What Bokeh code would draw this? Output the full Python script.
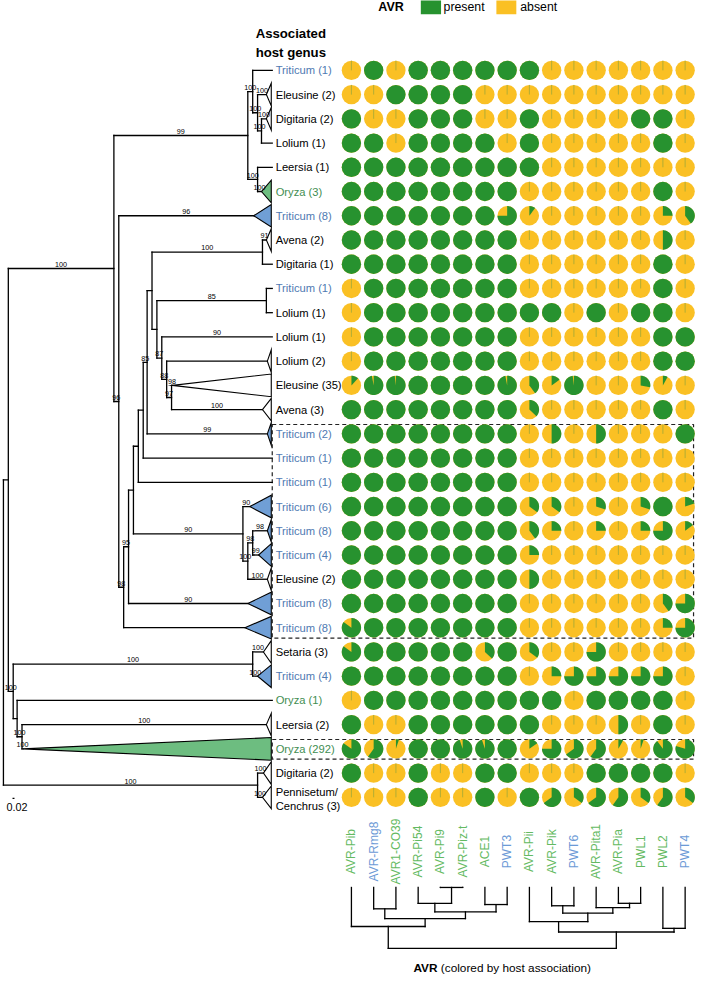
import math
from bokeh.plotting import figure
from bokeh.models import Range1d
from bokeh.embed import file_html
from bokeh.resources import INLINE
from bokeh.core.properties import value

# ------------------------------------------------------------------ data
avr_genes = ["AVR-Pib", "AVR-Rmg8", "AVR1-CO39", "AVR-Pi54", "AVR-Pi9", "AVR-Piz-t",
             "ACE1", "PWT3", "AVR-Pii", "AVR-Pik", "PWT6", "AVR-Pita1", "AVR-Pia",
             "PWL1", "PWL2", "PWT4"]
avr_gene_host = ["Oryza", "Triticum", "Oryza", "Oryza", "Oryza", "Oryza", "Oryza",
                 "Triticum", "Oryza", "Oryza", "Triticum", "Oryza", "Oryza", "Oryza",
                 "Oryza", "Triticum"]

lineage_labels = ["Triticum (1)", "Eleusine (2)", "Digitaria (2)", "Lolium (1)", "Leersia (1)",
                  "Oryza (3)", "Triticum (8)", "Avena (2)", "Digitaria (1)", "Triticum (1)",
                  "Lolium (1)", "Lolium (1)", "Lolium (2)", "Eleusine (35)", "Avena (3)",
                  "Triticum (2)", "Triticum (1)", "Triticum (1)", "Triticum (6)", "Triticum (8)",
                  "Triticum (4)", "Eleusine (2)", "Triticum (8)", "Triticum (8)", "Setaria (3)",
                  "Triticum (4)", "Oryza (1)", "Leersia (2)", "Oryza (292)", "Digitaria (2)",
                  "Pennisetum/\nCenchrus (3)"]

# fraction of isolates with the AVR gene present (rows = lineages, cols = avr_genes)
present_frac = [
    [0, 1, 0, 1, 1, 1, 1, 1, 1, 0, 0, 0, 0, 0, 0, 0],
    [0, 0, 1, 1, 1, 1, 0, 0, 0, 0, 0, 0, 0, 0, 0, 0],
    [1, 0, 0, 1, 1, 1, 0, 0, 1, 0, 0, 0, 0, 1, 1, 0],
    [1, 1, 0, 1, 1, 1, 1, 0, 1, 0, 0, 0, 0, 0, 1, 0],
    [1, 1, 1, 1, 1, 1, 1, 1, 1, 0, 0, 0, 0, 0, 0, 0],
    [1, 1, 1, 1, 1, 1, 1, 1, 0, 0, 0, 0, 0, 0, 1, 0],
    [1, 1, 1, 1, 1, 1, 1, 0.75, 0.1, 0, 0, 0, 0, 0, 0.25, 0.4],
    [1, 1, 1, 1, 1, 1, 1, 1, 0, 0, 0, 0, 0, 0, 0.5, 0],
    [1, 1, 1, 1, 1, 1, 1, 1, 0, 0, 0, 0, 0, 0, 1, 0],
    [0, 1, 1, 1, 1, 1, 1, 1, 0, 0, 0, 0, 0, 0, 1, 0],
    [0, 1, 1, 1, 1, 1, 1, 1, 1, 1, 0, 1, 0, 1, 1, 0],
    [0, 1, 1, 1, 1, 1, 1, 1, 0, 0, 0, 0, 0, 0, 1, 1],
    [0, 1, 1, 1, 1, 1, 1, 1, 0, 0, 0, 0, 0, 0, 1, 1],
    [0.12, 0.97, 0.98, 1, 1, 1, 1, 0.97, 0.4, 0.15, 0.98, 0, 0, 0.28, 0.08, 0],
    [1, 1, 1, 1, 1, 1, 1, 1, 0.37, 0, 0, 0, 0, 0, 1, 0],
    [1, 1, 1, 1, 1, 1, 1, 1, 0, 0.5, 0, 0.5, 0, 0, 0, 1],
    [1, 1, 1, 1, 1, 1, 1, 1, 0, 0, 0, 0, 0, 0, 0, 0],
    [1, 1, 1, 1, 1, 1, 1, 1, 0, 0, 0, 0, 0, 0, 0, 0],
    [1, 1, 1, 1, 1, 1, 1, 1, 0.35, 0.35, 0, 0.3, 0, 0.3, 1, 0.2],
    [1, 1, 1, 1, 1, 1, 1, 1, 0.4, 0.25, 0, 0.25, 0, 0.25, 0.75, 0.15],
    [1, 1, 1, 1, 1, 1, 1, 1, 0.25, 0, 0, 0, 0, 0, 0, 0],
    [1, 1, 1, 1, 1, 1, 1, 1, 0.5, 0, 0, 0, 0, 0, 0, 0],
    [1, 1, 1, 1, 1, 1, 1, 1, 0, 0, 0, 0, 0, 0, 0.4, 0.75],
    [0.85, 1, 1, 1, 1, 1, 1, 1, 0, 0, 0, 0, 0, 0, 0.25, 0.75],
    [0.85, 1, 1, 1, 1, 1, 0.37, 1, 0.35, 0, 0, 0.75, 0, 0, 0, 0],
    [1, 1, 1, 1, 1, 1, 1, 1, 0, 0.25, 0.75, 0.75, 0.75, 0.75, 0.75, 0],
    [0, 1, 1, 1, 1, 1, 1, 1, 1, 1, 0, 1, 1, 1, 1, 0],
    [1, 0, 0, 1, 1, 1, 1, 1, 1, 0, 0, 0, 0.5, 0, 1, 0],
    [0.85, 0.6, 0.05, 1, 1, 0.95, 0.95, 1, 0.15, 0.75, 0.65, 0.6, 0.08, 0.05, 0.9, 0.8],
    [1, 0, 0, 1, 0, 0, 1, 1, 0, 0, 0, 1, 1, 1, 1, 0],
    [0, 0, 0, 1, 0, 0, 1, 0, 1, 0.65, 0.35, 0.65, 0.6, 0.35, 0.6, 0.35],
]

# lineage tree: internal nodes, their parent, depth and bootstrap of the branch above
node_names = ["root", "N8", "A", "P", "Q", "S", "T", "R", "B", "C4", "C3", "C2", "C1", "C0",
              "D1", "D2", "U", "X", "W", "Y1", "Y2", "Z", "K1", "K2", "K3", "N13", "ST",
              "N17", "N22", "DP"]
node_parent = [None, "root", "N8", "A", "P", "Q", "S", "P", "A", "B", "C4", "C3", "C2", "C1",
               "C0", "D1", "D2", "D2", "X", "X", "Y1", "Y2", "C2", "K1", "K2", "N8", "N13",
               "N13", "N17", "root"]
node_depth = [0.00, 0.05, 1.13, 2.50, 2.55, 2.60, 2.64, 2.60, 1.18, 1.23, 1.28, 1.33, 1.38,
              1.43, 1.47, 1.52, 2.65, 1.57, 2.69, 1.62, 1.67, 1.72, 2.45, 2.50, 2.55, 0.10,
              2.55, 0.14, 0.19, 2.60]
node_support = ["", "", "100", "99", "100", "100", "100", "100", "96", "98", "95", "", "",
                "", "85", "", "100", "", "85", "87", "88", "97", "90", "100", "98", "100",
                "100", "", "100", "100"]

# tips (one per lineage row): parent node, collapsed-clade depth (None = single tip), bootstrap
leaf_parent = ["Q", "S", "T", "T", "R", "R", "B", "U", "U", "W", "W", "Y1", "Y2", "Z", "Z",
               "D1", "C0", "C1", "K1", "K3", "K3", "K2", "C3", "C4", "ST", "ST", "N17", "N22",
               "N22", "DP", "DP"]
leaf_clade_depth = [None, 2.69, 2.69, None, None, 2.64, 2.56, 2.69, None, None, None, None,
                    2.70, 1.73, 2.65, 2.70, None, None, 2.52, 2.70, 2.61, 2.70, 2.50, 2.47,
                    2.66, 2.60, None, 2.69, 0.20, 2.66, 2.65]
leaf_support = ["", "100", "100", "", "", "100", "96", "91", "", "", "", "90", "", "98",
                "100", "99", "", "", "90", "98", "99", "100", "90", "", "100", "100", "",
                "100", "100", "100", "100"]
tip_depth = 2.75
scale_bar_length = 0.02

# host-jump groups highlighted with dashed boxes (1-based lineage rows)
box_first_row = [16, 29]
box_last_row = [24, 29]

# AVR presence/absence clustering (leaves 0..15 = avr_genes, new clusters numbered from 16)
avr_merge_left = [4, 12, 3, 6, 9, 11, 1, 18, 20, 22, 8, 0, 14, 26, 27]
avr_merge_right = [5, 13, 16, 7, 10, 17, 2, 19, 21, 23, 24, 25, 15, 28, 29]
avr_merge_height = [0.0, 0.26, 0.26, 0.28, 0.30, 0.33, 0.35, 0.40, 0.42, 0.51, 0.56, 0.64,
                    0.67, 0.73, 1.00]

# ------------------------------------------------------------------ layout / style
FONT = value("Liberation Sans")
GREEN = "#27922F"
YELLOW = "#FAC024"
HOST_TEXT = {"Triticum": "#4F7AB2", "Oryza": "#3F8E52"}
HOST_FILL = {"Triticum": "#709FD6", "Oryza": "#6DBD80"}
AVR_TEXT = {"Triticum": "#6C9AD6", "Oryza": "#64BA62"}

TREE_X0, TREE_SCALE = 3.0, 100.0
ROW_Y0, ROW_DY = 71.0, 24.63
COL_X0, COL_DX = 359.0, 22.76
PIE_R = 9.9
TRI_H = 11.5
LABEL_X = 281.5
DEND_Y0, DEND_SCALE = 901.5, 62.0

W, H = 695, 976
XR, YR = 711.0, 992.0


def tx(d):
    return TREE_X0 + TREE_SCALE * d


def ry(i):
    return ROW_Y0 + ROW_DY * i


def cx(j):
    return COL_X0 + COL_DX * j


def host_of(label):
    word = label.split(" ")[0]
    return word if word in ("Triticum", "Oryza") else "other"


p = figure(width=W, height=H, x_range=Range1d(0, XR), y_range=Range1d(YR, 0),
           output_backend="svg", toolbar_location=None, min_border=0,
           x_axis_type=None, y_axis_type=None)
p.outline_line_color = None
p.background_fill_color = "white"

# ------------------------------------------------------------------ dashed boxes
bx_l, bx_r = 278.0, 709.0
p.quad(left=[bx_l] * len(box_first_row), right=[bx_r] * len(box_first_row),
       top=[ry(a - 1) - 9.5 for a in box_first_row],
       bottom=[ry(b - 1) + 10.5 for b in box_last_row],
       fill_color=None, line_color="#222222", line_width=1.2, line_dash="4 3")

# ------------------------------------------------------------------ tree
nidx = {n: i for i, n in enumerate(node_names)}
children = {n: [] for n in node_names}
for i, par in enumerate(node_parent):
    if par is not None:
        children[par].append(("node", node_names[i]))
for i, par in enumerate(leaf_parent):
    children[par].append(("leaf", i))

node_y = {}


def y_of(kind, key):
    if kind == "leaf":
        return ry(key)
    if key in node_y:
        return node_y[key]
    ys = [y_of(k, c) for k, c in children[key]]
    node_y[key] = (min(ys) + max(ys)) / 2.0
    return node_y[key]


y_of("node", "root")

seg_x0, seg_y0, seg_x1, seg_y1 = [], [], [], []
sup_x, sup_y, sup_t = [], [], []
for n in node_names:
    ys = [y_of(k, c) for k, c in children[n]]
    x = tx(node_depth[nidx[n]])
    seg_x0.append(x); seg_x1.append(x); seg_y0.append(min(ys)); seg_y1.append(max(ys))
for i, n in enumerate(node_names):
    par = node_parent[i]
    if par is None:
        continue
    xa, xb, y = tx(node_depth[nidx[par]]), tx(node_depth[i]), node_y[n]
    seg_x0.append(xa); seg_x1.append(xb); seg_y0.append(y); seg_y1.append(y)
    if node_support[i]:
        sup_x.append((xa + xb) / 2); sup_y.append(y - 4.2); sup_t.append(node_support[i])
tri_xs, tri_ys, tri_fill = [], [], []
for i, par in enumerate(leaf_parent):
    y = ry(i)
    xa = tx(node_depth[nidx[par]])
    cd = leaf_clade_depth[i]
    xb = tx(cd if cd is not None else tip_depth)
    seg_x0.append(xa); seg_x1.append(xb); seg_y0.append(y); seg_y1.append(y)
    if leaf_support[i]:
        sup_x.append((xa + xb) / 2); sup_y.append(y - 4.2); sup_t.append(leaf_support[i])
    if cd is not None:
        xt = tx(tip_depth) - 1
        tri_xs.append([xb, xt, xt]); tri_ys.append([y, y - TRI_H, y + TRI_H])
        tri_fill.append(HOST_FILL.get(host_of(lineage_labels[i]), "white"))
p.segment(x0=seg_x0, y0=seg_y0, x1=seg_x1, y1=seg_y1, line_color="black", line_width=1.3,
          line_cap="square")
p.patches(xs=tri_xs, ys=tri_ys, fill_color=tri_fill, line_color="black", line_width=1.1,
          line_join="miter")
p.text(x=sup_x, y=sup_y, text=sup_t, text_font=FONT, text_font_size="7.2px",
       text_align="center", text_baseline="middle", text_color="black")

# scale bar
p.segment(x0=[tx(0.093)], y0=[811.0], x1=[tx(0.093 + scale_bar_length)], y1=[811.0],
          line_color="black", line_width=1.3)
p.text(x=[17.0], y=[820.0], text=[f"{scale_bar_length:.2f}"], text_font=FONT,
       text_font_size="10.8px", text_align="center", text_baseline="middle",
       text_color="black")

# ------------------------------------------------------------------ lineage labels
lab_colors = [HOST_TEXT.get(host_of(l), "black") for l in lineage_labels]
p.text(x=[LABEL_X] * len(lineage_labels), y=[ry(i) + (1.5 if "\n" in l else 0)
                                             for i, l in enumerate(lineage_labels)],
       text=lineage_labels, text_font=FONT, text_font_size="11.2px", text_align="left",
       text_baseline="middle", text_color=lab_colors, text_line_height=1.15)
p.text(x=[261.0], y=[43.5], text=["Associated\nhost genus"], text_font=FONT,
       text_font_size="13.2px", text_font_style="bold", text_align="left",
       text_baseline="middle", text_color="black", text_line_height=1.25)

# ------------------------------------------------------------------ pie matrix
r_y = PIE_R * (W / XR) * (YR / H)   # same on-screen radius in y data units
px_all, py_all = [], []
gx, gy = [], []
wedge_xs, wedge_ys = [], []
zx, zy0, zy1 = [], [], []
for i, row in enumerate(present_frac):
    for j, f in enumerate(row):
        x, y = cx(j), ry(i)
        px_all.append(x); py_all.append(y)
        if f >= 0.995:
            gx.append(x); gy.append(y)
        elif f > 0:
            # present share, clockwise from 12 o'clock (y axis runs downwards)
            n = max(4, int(72 * f) + 2)
            xs = [x]; ys = [y]
            for k in range(n + 1):
                t = 2 * math.pi * f * k / n
                xs.append(x + PIE_R * math.sin(t))
                ys.append(y - r_y * math.cos(t))
            wedge_xs.append(xs); wedge_ys.append(ys)
        else:
            zx.append(x); zy0.append(y); zy1.append(y - r_y)
p.circle(x=px_all, y=py_all, radius=PIE_R, fill_color=YELLOW, line_color=None)
p.circle(x=gx, y=gy, radius=PIE_R, fill_color=GREEN, line_color=None)
p.patches(xs=wedge_xs, ys=wedge_ys, fill_color=GREEN, line_color=None)
p.segment(x0=zx, y0=zy0, x1=zx, y1=zy1, line_color="#9FA838", line_width=0.8)

# ------------------------------------------------------------------ legend (top)
p.text(x=[386.5], y=[7.0], text=["AVR"], text_font=FONT, text_font_size="12.5px",
       text_font_style="bold", text_align="left", text_baseline="middle", text_color="black")
p.quad(left=[430.0, 507.3], right=[450.7, 527.7], top=[-6.0, -6.0], bottom=[14.0, 14.0],
       fill_color=[GREEN, YELLOW], line_color=None)
p.text(x=[453.3, 531.7], y=[6.5, 6.5], text=["present", "absent"], text_font=FONT,
       text_font_size="12.3px", text_align="left", text_baseline="middle", text_color="black")

# ------------------------------------------------------------------ AVR column labels
p.text(x=[cx(j) for j in range(len(avr_genes))], y=[865.0] * len(avr_genes), text=avr_genes,
       angle=math.pi / 2, text_font=FONT, text_font_size="12px", text_align="center",
       text_baseline="middle", text_color=[AVR_TEXT[h] for h in avr_gene_host])

# ------------------------------------------------------------------ AVR dendrogram
n_leaf = len(avr_genes)
cl_x = {j: cx(j) for j in range(n_leaf)}
cl_h = {j: 0.0 for j in range(n_leaf)}
dx0, dy0, dx1, dy1 = [], [], [], []


def dy(h):
    return DEND_Y0 + DEND_SCALE * h


for k, (a, b, h) in enumerate(zip(avr_merge_left, avr_merge_right, avr_merge_height)):
    cid = n_leaf + k
    xa, xb = cl_x[a], cl_x[b]
    dx0 += [xa, xb, xa]; dx1 += [xa, xb, xb]
    dy0 += [dy(cl_h[a]), dy(cl_h[b]), dy(h)]; dy1 += [dy(h), dy(h), dy(h)]
    cl_x[cid] = (xa + xb) / 2
    cl_h[cid] = h
p.segment(x0=dx0, y0=dy0, x1=dx1, y1=dy1, line_color="black", line_width=1.3,
          line_cap="square")

p.text(x=[447.0], y=[983.0], text=["AVR"], text_font=FONT, text_font_size="11.8px",
       text_font_style="bold", text_align="right", text_baseline="middle", text_color="black")
p.text(x=[450.5], y=[983.0], text=["(colored by host association)"], text_font=FONT,
       text_font_size="11.8px", text_align="left", text_baseline="middle", text_color="black")

with open("out.html", "w") as fh:
    fh.write(file_html(p, INLINE))
